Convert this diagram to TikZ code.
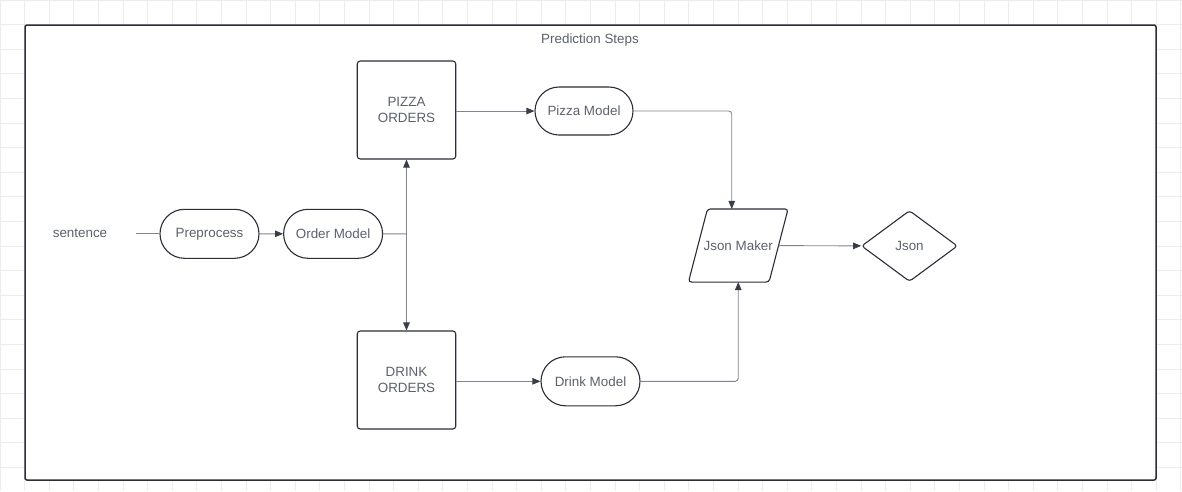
\documentclass[tikz,border=0pt]{standalone}
\usepackage{fontspec}
\setmainfont{Liberation Sans}
\usetikzlibrary{
  arrows.meta,
  positioning,
  shapes.geometric,
  shapes.misc
}
\definecolor{gridGray}{rgb}{0.925,0.925,0.925}
\definecolor{edgeDark}{rgb}{0.17,0.18,0.21}
\definecolor{lineGray}{rgb}{0.50,0.52,0.56}
\definecolor{tipDark}{rgb}{0.22,0.24,0.28}
\definecolor{textGray}{rgb}{0.36,0.38,0.42}
\tikzset{
  terminal/.style={
    rounded rectangle,
    draw=edgeDark,
    minimum width=99pt,
    minimum height=49pt
  },
  orderbox/.style={
    rectangle,
    draw=edgeDark,
    rounded corners=3pt,
    align=center,
    minimum width=98.5pt,
    minimum height=98pt
  },
  flow/.style={
    draw=lineGray,
    line width=0.9pt,
    rounded corners=3pt
  }
}

\begin{document}
\begin{tikzpicture}[
      x=1pt, y=-1pt,
      >={Triangle[length=8pt, width=6.5pt, color=tipDark]},
      every node/.style={
        inner sep=0pt,
        line width=1.1pt,
        text=textGray,
        font=\fontsize{13.4}{16}\selectfont
      }
      ]
      \useasboundingbox (0,0) rectangle (1182,491);
      % background grid and frame
      \draw[gridGray, line width=0.8pt, step=24.6pt] (0,0) grid (1182,491);
      \draw[edgeDark, fill=white, line width=1.5pt, rounded corners=2pt]
        (25,25) rectangle (1156,480);
      \node (title) at (590,40) {Prediction Steps};

      \node (sentence) at (80,233.5) {sentence};
      \coordinate (sIn) at (136,233.8);
      \node[terminal] (pre) at (209.5,233.8) {Preprocess};
      \node[terminal, right=23.5pt of pre] (order) {Order Model};
      \coordinate (split) at (406.5,233.8);

      \node[orderbox] (pizzaOrd) at (406.5,110) {PIZZA\\ORDERS};
      \node[orderbox] (drinkOrd) at (406.5,380) {DRINK\\ORDERS};
      \node[terminal, minimum width=98pt, minimum height=48pt] (pizzaM) at (584,111) {Pizza Model};
      \node[terminal] (drinkM) at (590.5,381.3) {Drink Model};

      % parallelogram body, slanted outline drawn from its corners
      \node[minimum width=79.5pt, minimum height=72pt] (maker) at (738.25,245.5) {Json Maker};
      \draw[edgeDark, line width=1.1pt, rounded corners=3pt]
        ([xshift=-9.5pt]maker.south west) -- ([xshift=-9.5pt]maker.south east)
        -- ([xshift=9.5pt]maker.north east) -- ([xshift=9.5pt]maker.north west) -- cycle;
      \node[diamond, aspect=1.35, draw=edgeDark, rounded corners=3pt,
        minimum width=96pt, minimum height=71pt] (json) at (909.5,246) {Json};

      % connectors
      \draw[flow] (sIn) -- (pre);
      \draw[flow, ->] (pre) -- (order);
      \draw[flow] (order) -- (split);
      \draw[flow, ->] (split) -- (pizzaOrd);
      \draw[flow, ->] (split) -- (drinkOrd);
      \draw[flow, ->] (pizzaOrd.east |- pizzaM) -- (pizzaM);
      \draw[flow, ->] (drinkOrd.east |- drinkM) -- (drinkM);
      \draw[flow, ->] (pizzaM) -| ([xshift=-6.5pt]maker.north);
      \draw[flow, ->] (drinkM) -| (maker.south);
      \draw[flow, ->] (maker) -- (json);
    \end{tikzpicture}
\end{document}
